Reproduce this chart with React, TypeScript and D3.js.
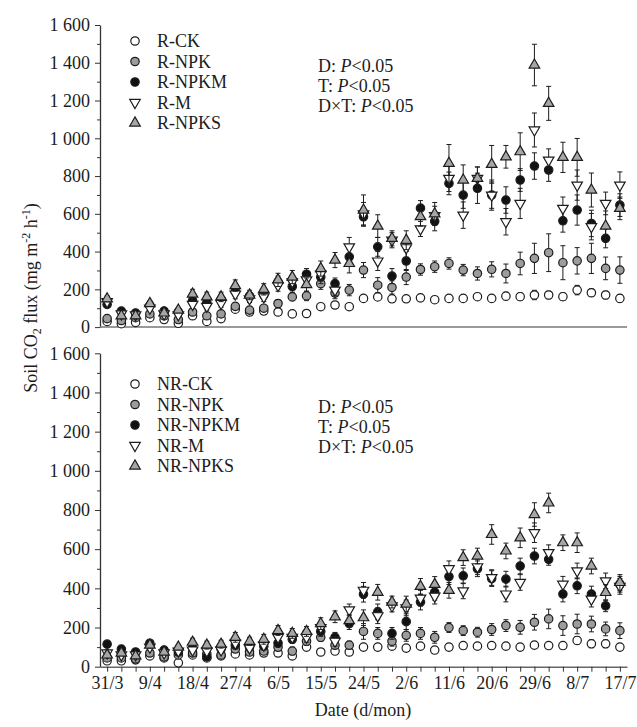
import { useEffect, useRef } from "react";
import * as d3 from "d3";

// sampling dates, every 3 days
const dates = [
  "31/3", "3/4", "6/4", "9/4", "12/4", "15/4", "18/4", "21/4", "24/4", "27/4",
  "30/4", "3/5", "6/5", "9/5", "12/5", "15/5", "18/5", "21/5", "24/5", "27/5",
  "30/5", "2/6", "5/6", "8/6", "11/6", "14/6", "17/6", "20/6", "23/6", "26/6",
  "29/6", "2/7", "5/7", "8/7", "11/7", "14/7", "17/7",
];

// top panel (R)
const rNames = ["R-CK", "R-NPK", "R-NPKM", "R-M", "R-NPKS"];
const rCK = [30, 18, 25, 50, 40, 20, 60, 30, 45, 95, 80, 85, 80, 70, 72, 108, 117, 108, 152, 160, 150, 150, 155, 145, 152, 152, 161, 152, 164, 161, 170, 170, 161, 196, 182, 170, 152];
const rNPK = [45, 35, 50, 70, 60, 40, 80, 60, 70, 110, 90, 100, 125, 160, 165, 230, 180, 196, 302, 222, 210, 265, 305, 320, 337, 302, 284, 306, 284, 337, 364, 394, 341, 351, 364, 311, 302];
const rNPKM = [120, 85, 75, 115, 85, 80, 140, 130, 145, 190, 165, 170, 240, 215, 280, 265, 230, 372, 584, 425, 270, 350, 630, 560, 761, 699, 735, 699, 673, 779, 853, 832, 563, 620, 549, 470, 646];
const rM = [135, 70, 65, 100, 70, 65, 120, 110, 125, 175, 150, 160, 220, 240, 250, 280, 196, 425, 600, 350, 460, 420, 520, 590, 788, 593, 788, 699, 558, 655, 1044, 884, 629, 752, 532, 655, 752];
const rNPKS = [150, 60, 60, 125, 75, 90, 175, 160, 160, 220, 170, 200, 250, 265, 225, 310, 355, 337, 620, 535, 470, 460, 585, 600, 867, 779, 788, 862, 902, 929, 1388, 1185, 899, 899, 726, 535, 629];
const rCKErr = [8, 8, 8, 10, 8, 8, 10, 8, 10, 12, 10, 10, 12, 10, 10, 12, 12, 12, 15, 15, 15, 15, 15, 15, 15, 15, 15, 15, 20, 20, 25, 20, 20, 25, 20, 20, 20];
const rNPKErr = [10, 8, 10, 12, 10, 10, 12, 10, 12, 15, 12, 15, 20, 20, 25, 30, 30, 30, 40, 40, 35, 40, 30, 30, 30, 30, 35, 40, 50, 60, 80, 100, 90, 70, 80, 60, 70];
const rNPKMErr = [15, 10, 10, 15, 12, 12, 20, 20, 20, 25, 20, 25, 30, 30, 30, 35, 30, 40, 50, 50, 40, 50, 40, 50, 60, 70, 80, 80, 70, 60, 70, 60, 60, 80, 70, 50, 60];
const rMErr = [15, 10, 10, 15, 12, 12, 20, 20, 20, 25, 20, 25, 30, 30, 30, 35, 30, 50, 60, 50, 40, 50, 40, 50, 70, 70, 60, 70, 70, 80, 90, 60, 60, 80, 70, 60, 70];
const rNPKSErr = [15, 10, 10, 15, 12, 12, 25, 25, 25, 30, 25, 30, 35, 35, 35, 40, 40, 50, 80, 60, 40, 50, 50, 60, 100, 80, 60, 100, 60, 100, 110, 90, 80, 100, 90, 80, 60];

// bottom panel (NR)
const nrNames = ["NR-CK", "NR-NPK", "NR-NPKM", "NR-M", "NR-NPKS"];
const nrCK = [30, 30, 35, 55, 45, 20, 60, 45, 55, 65, 60, 70, 70, 55, 100, 75, 80, 75, 100, 100, 105, 95, 105, 85, 100, 108, 105, 108, 105, 100, 110, 108, 108, 134, 117, 117, 100];
const nrNPK = [45, 45, 40, 70, 50, 60, 70, 65, 60, 90, 75, 80, 100, 80, 130, 150, 110, 110, 180, 170, 130, 160, 170, 150, 200, 184, 176, 190, 210, 201, 227, 244, 210, 218, 218, 193, 184];
const nrNPKM = [115, 90, 75, 120, 85, 75, 95, 50, 90, 110, 100, 105, 120, 140, 170, 180, 150, 220, 370, 280, 170, 230, 330, 380, 460, 464, 500, 450, 447, 514, 565, 548, 371, 413, 371, 311, 421];
const nrM = [70, 60, 60, 100, 70, 80, 85, 80, 85, 120, 95, 110, 150, 150, 150, 200, 130, 290, 390, 260, 310, 300, 350, 360, 500, 387, 510, 455, 371, 430, 684, 582, 421, 489, 345, 438, 410];
const nrNPKS = [60, 70, 55, 110, 75, 100, 125, 110, 115, 150, 130, 140, 185, 170, 180, 220, 255, 235, 250, 380, 330, 320, 410, 420, 390, 557, 565, 675, 591, 658, 777, 836, 633, 633, 514, 379, 430];
const nrCKErr = [10, 8, 8, 10, 8, 8, 10, 10, 10, 10, 10, 10, 10, 10, 10, 10, 10, 10, 15, 15, 15, 15, 15, 15, 15, 15, 15, 15, 15, 15, 15, 15, 15, 20, 20, 20, 15];
const nrNPKErr = [10, 10, 10, 12, 10, 10, 12, 12, 12, 15, 12, 15, 20, 20, 20, 20, 20, 20, 40, 30, 25, 30, 30, 30, 25, 25, 25, 30, 30, 35, 40, 50, 50, 50, 40, 35, 40];
const nrNPKMErr = [15, 12, 12, 15, 12, 12, 15, 15, 15, 20, 15, 20, 20, 20, 25, 25, 25, 30, 40, 40, 30, 40, 40, 40, 40, 40, 40, 40, 40, 40, 40, 30, 40, 40, 40, 30, 40];
const nrMErr = [15, 12, 12, 15, 12, 12, 15, 15, 15, 20, 15, 20, 20, 20, 25, 25, 25, 30, 40, 40, 30, 40, 40, 40, 40, 40, 40, 40, 40, 40, 50, 40, 40, 40, 40, 40, 40];
const nrNPKSErr = [15, 12, 12, 15, 12, 12, 20, 20, 20, 25, 20, 25, 25, 25, 25, 30, 30, 30, 40, 40, 30, 40, 40, 40, 40, 40, 40, 50, 40, 50, 60, 50, 40, 50, 40, 40, 40];

const yMajor = [0, 200, 400, 600, 800, 1000, 1200, 1400, 1600];
const yMinor = [100, 300, 500, 700, 900, 1100, 1300, 1500];
const statLines = ["D", "T", "D×T"];

const FONT = "'Liberation Serif', 'Times New Roman', serif";
const INK = "#1c1c1c";
const markerKinds = ["open", "gray", "black", "down", "up"];

function drawMarker(g: any, kind: string, cx: number, cy: number) {
  if (kind === "up" || kind === "down") {
    const tri = d3.symbol().type(d3.symbolTriangle).size(48);
    g.append("path")
      .attr("d", tri())
      .attr("transform", `translate(${cx},${cy}) rotate(${kind === "down" ? 180 : 0})`)
      .attr("fill", kind === "up" ? "#a6a6a6" : "#fff")
      .attr("stroke", INK)
      .attr("stroke-width", 1.2);
  } else {
    g.append("circle")
      .attr("cx", cx)
      .attr("cy", cy)
      .attr("r", 4.2)
      .attr("fill", kind === "open" ? "#fff" : kind === "gray" ? "#9c9c9c" : "#111")
      .attr("stroke", INK)
      .attr("stroke-width", 1.2);
  }
}

export default function App() {
  const svgRef = useRef<SVGSVGElement>(null);

  useEffect(() => {
    if (!svgRef.current) return;
    const svg = d3.select(svgRef.current);
    svg.selectAll("*").remove();

    const x = d3.scaleLinear().domain([-0.5, dates.length - 0.5]).range([100, 627]);

    const panels = [
      {
        names: rNames,
        values: [rCK, rNPK, rNPKM, rM, rNPKS],
        errors: [rCKErr, rNPKErr, rNPKMErr, rMErr, rNPKSErr],
        y0: 327.1, y1: 25,
        legendY: 41, statY: 72, showX: false,
      },
      {
        names: nrNames,
        values: [nrCK, nrNPK, nrNPKM, nrM, nrNPKS],
        errors: [nrCKErr, nrNPKErr, nrNPKMErr, nrMErr, nrNPKSErr],
        y0: 666.7, y1: 353.3,
        legendY: 384, statY: 413, showX: true,
      },
    ];

    panels.forEach((p) => {
      const y = d3.scaleLinear().domain([0, 1600]).range([p.y0, p.y1]);
      const g = svg.append("g");

      // y axis
      const yAxis = g.append("g")
        .attr("transform", "translate(100,0)")
        .call(
          d3.axisLeft(y)
            .tickValues(yMajor)
            .tickSize(5)
            .tickSizeOuter(0)
            .tickPadding(5)
            .tickFormat((v: any) => d3.format(",")(v).replace(",", " "))
        );
      yAxis.select(".domain").attr("stroke", "#333").attr("stroke-width", 1.3);
      yAxis.selectAll(".tick line").attr("stroke", "#333");
      yAxis.selectAll("text")
        .attr("font-family", FONT)
        .attr("font-size", 18)
        .attr("fill", INK);

      const yMin = g.append("g")
        .attr("transform", "translate(100,0)")
        .call(d3.axisLeft(y).tickValues(yMinor).tickSize(3).tickSizeOuter(0).tickFormat(() => ""));
      yMin.select(".domain").remove();
      yMin.selectAll(".tick line").attr("stroke", "#333");

      // x axis
      if (p.showX) {
        const xAxis = g.append("g")
          .attr("transform", `translate(0,${p.y0})`)
          .call(
            d3.axisBottom(x)
              .tickValues(d3.range(dates.length))
              .tickSize(5)
              .tickSizeOuter(0)
              .tickPadding(5)
              .tickFormat((i: any) => (i % 3 === 0 ? dates[i] : ""))
          );
        xAxis.select(".domain").attr("stroke", "#666").attr("stroke-width", 1.5);
        xAxis.selectAll(".tick line").attr("stroke", "#333");
        xAxis.selectAll("text")
          .attr("font-family", FONT)
          .attr("font-size", 18)
          .attr("fill", INK);
      } else {
        g.append("line")
          .attr("x1", 100).attr("x2", 627)
          .attr("y1", p.y0).attr("y2", p.y0)
          .attr("stroke", "#777")
          .attr("stroke-width", 1.5);
      }

      // error bars then markers, series by series
      p.values.forEach((vals, s) => {
        const sg = g.append("g");
        vals.forEach((v, i) => {
          const e = p.errors[s][i];
          const cx = x(i);
          const lo = y(Math.max(0, v - e));
          const hi = y(v + e);
          sg.append("line").attr("x1", cx).attr("x2", cx).attr("y1", lo).attr("y2", hi)
            .attr("stroke", INK).attr("stroke-width", 1);
          [lo, hi].forEach((yy) =>
            sg.append("line").attr("x1", cx - 2.5).attr("x2", cx + 2.5).attr("y1", yy).attr("y2", yy)
              .attr("stroke", INK).attr("stroke-width", 1)
          );
        });
        vals.forEach((v, i) => drawMarker(sg, markerKinds[s], x(i), y(v)));
      });

      // legend
      p.names.forEach((name, s) => {
        const ly = p.legendY + s * 20.5;
        drawMarker(g, markerKinds[s], 135, ly);
        g.append("text")
          .attr("x", 157)
          .attr("y", ly + 6)
          .attr("font-family", FONT)
          .attr("font-size", 18)
          .attr("fill", INK)
          .text(name);
      });

      // stats
      statLines.forEach((lab, k) => {
        const t = g.append("text")
          .attr("x", 318)
          .attr("y", p.statY + k * 20)
          .attr("font-family", FONT)
          .attr("font-size", 18)
          .attr("fill", INK);
        t.append("tspan").text(`${lab}: `);
        t.append("tspan").attr("font-style", "italic").text("P");
        t.append("tspan").text("<0.05");
      });
    });

    // y title
    const yt = svg.append("text")
      .attr("transform", "translate(37,298) rotate(-90)")
      .attr("text-anchor", "middle")
      .attr("font-family", FONT)
      .attr("font-size", 18)
      .attr("fill", INK);
    yt.append("tspan").text("Soil CO");
    yt.append("tspan").attr("font-size", 12).attr("dy", 4).text("2");
    yt.append("tspan").attr("dy", -4).text(" flux (mg m");
    yt.append("tspan").attr("font-size", 12).attr("dy", -7).text("-2");
    yt.append("tspan").attr("dy", 7).text(" h");
    yt.append("tspan").attr("font-size", 12).attr("dy", -7).text("-1");
    yt.append("tspan").attr("dy", 7).text(")");

    // x title
    svg.append("text")
      .attr("x", 363)
      .attr("y", 716)
      .attr("text-anchor", "middle")
      .attr("font-family", FONT)
      .attr("font-size", 18)
      .attr("fill", INK)
      .text("Date (d/mon)");
  }, []);

  return (
    <svg
      ref={svgRef}
      width={637}
      height={727}
      style={{ position: "absolute", left: 0, top: 0, background: "#fff" }}
    />
  );
}
